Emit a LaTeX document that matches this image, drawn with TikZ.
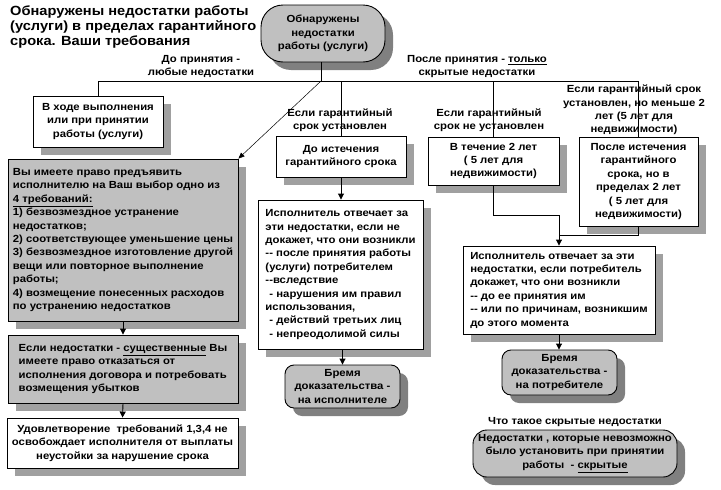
\documentclass[tikz,border=0pt]{standalone}
\usepackage{fontspec}
\setmainfont{Liberation Sans}[FakeStretch=1.1]
\usetikzlibrary{shadows,arrows.meta}
\definecolor{shgray}{RGB}{160,160,160}
\definecolor{dkgray}{RGB}{128,128,128}
\definecolor{boxgray}{RGB}{192,192,192}
\newcommand\hh{-\kern0pt-}
\begin{document}
\begin{tikzpicture}[x=1pt,y=-1pt,
  bf/.style={font=\fontsize{10.3}{13.4}\selectfont\bfseries},
  lbl/.style={bf, align=center, inner sep=0},
  bx/.style={bf, draw, line width=0.9pt, fill=white, inner sep=0, align=center,
    general shadow={fill=shgray, shadow xshift=8pt, shadow yshift=-8pt}},
  gbx/.style={bx, fill=boxgray},
  rbx/.style={bf, draw, line width=0.9pt, fill=boxgray, inner sep=0, align=center, rounded corners=9pt,
    general shadow={fill=dkgray, shadow xshift=8pt, shadow yshift=-8pt}},
  ln/.style={line width=0.9pt},
  arr/.style={line width=0.9pt, -{Triangle[length=6pt,width=6pt]}},
  darr/.style={line width=0.5pt, -{Triangle[length=6pt,width=5pt]}}
]
\useasboundingbox (0,0) rectangle (721,490);
% title
\node[anchor=north west, align=left, inner sep=0, font=\fontsize{13.3}{15}\selectfont\bfseries] (title) at (10,6)
  {Обнаружены недостатки работы\\(услуги) в пределах гарантийного\\срока. Ваши требования};
% top node
\node[rbx, rounded corners=22pt, minimum width=124pt, minimum height=57pt] (top) at (323,33.5)
  {Обнаружены\\недостатки\\работы (услуги)};
% junction
\coordinate (J) at (321,81);
\coordinate (hL) at (98,81);
\coordinate (hR) at (638,81);
\draw[ln] (top.south -| J) -- (J);
\draw[ln] (hL) -- (hR);
% labels
\node[lbl] (l1) at (201,66.5) {До принятия -\\любые недостатки};
\node[lbl] (l2) at (477,66.5) {После принятия - \underline{только}\\скрытые недостатки};
\node[lbl] (l3) at (340,120.5) {Если гарантийный\\срок установлен};
\node[lbl] (l4) at (489,120.5) {Если гарантийный\\срок не установлен};
\node[lbl] (l5) at (634,110) {Если гарантийный срок\\установлен, но меньше 2\\лет (5 лет для\\недвижимости)};
\node[lbl] (l6) at (575,422) {Что такое скрытые недостатки};
% left column
\node[bx, minimum width=130pt, minimum height=51pt] (a) at (98,121.5)
  {В ходе выполнения\\или при принятии\\работы (услуги)};
\node[gbx, minimum width=230pt, minimum height=162pt, align=left] (g1) at (123,240)
  {Вы имеете право предъявить\\исполнителю на Ваш выбор одно из\\\underline{4 требований:}\\1) безвозмездное устранение\\недостатков;\\2) соответствующее уменьшение цены\\3) безвозмездное изготовление другой\\вещи или повторное выполнение\\работы;\\4) возмещение понесенных расходов\\по устранению недостатков};
\node[gbx, minimum width=230pt, minimum height=68pt, align=left] (g2) at (123,369)
  {Если недостатки - \underline{существенные} Вы\\имеете право отказаться от\\исполнения договора и потребовать\\возмещения убытков};
\node[bx, minimum width=231pt, minimum height=50pt] (c) at (122.5,443)
  {Удовлетворение\ \ требований 1,3,4 не\\освобождает исполнителя от выплаты\\неустойки за нарушение срока};
% middle column
\node[bx, minimum width=130pt, minimum height=41pt] (d) at (341,156.5)
  {До истечения\\гарантийного срока};
\node[bx, minimum width=165pt, minimum height=149pt, align=left] (m) at (340.5,274.5)
  {Исполнитель отвечает за\\эти недостатки, если не\\докажет, что они возникли\\\hh{} после принятия работы\\(услуги) потребителем\\\hh вследствие\\\hspace*{4pt}- нарушения им правил\\использования,\\\hspace*{4pt}- действий третьих лиц\\\hspace*{4pt}- непреодолимой силы};
\node[rbx, minimum width=115pt, minimum height=43pt] (b1) at (342.5,386.5)
  {Бремя\\доказательства -\\на исполнителе};
% right columns
\node[bx, minimum width=131pt, minimum height=48pt] (e) at (493.5,161)
  {В течение 2 лет\\( 5 лет для\\недвижимости)};
\node[bx, minimum width=119pt, minimum height=89pt] (f) at (638.5,181.5)
  {После истечения\\гарантийного\\срока, но в\\пределах 2 лет\\( 5 лет для\\недвижимости)};
\node[bx, minimum width=192pt, minimum height=88pt, align=left] (r) at (559,290)
  {Исполнитель отвечает за эти\\недостатки, если потребитель\\докажет, что они возникли\\\hh{} до ее принятия им\\\hh{} или по причинам, возникшим\\до этого момента};
\node[rbx, minimum width=115pt, minimum height=45pt] (b2) at (559.5,372.5)
  {Бремя\\доказательства -\\на потребителе};
\node[rbx, rounded corners=14pt, minimum width=204pt, minimum height=47pt] (s) at (575,453.5)
  {Недостатки , которые невозможно\\было установить при принятии\\работы\ \ - \underline{скрытые}};
% connectors
\draw[ln] (hL) -- (a.north -| hL);
\draw[ln] (d.north |- J) -- (d.north);
\draw[ln] (e.north |- J) -- (e.north);
\draw[ln] (f.north |- hR) -- (f.north);
\draw[darr] (J) -- (g1.north east);
\draw[arr] (g1.south) -- (g2.north);
\draw[arr] (g2.south) -- (c.north);
\draw[arr] (d.south) -- (m.north -| d.south);
\draw[arr] (m.south -| b1.north) -- (b1.north);
\coordinate (k1) at (493,215);
\coordinate (k2) at (638.5,235);
\draw[ln] (e.south -| k1) -- (k1) -| (r.north |- k2);
\draw[arr] (r.north |- k1) -- (r.north);
\draw[ln] (f.south) -- (k2) -- (r.north |- k2);
\draw[arr] (r.south) -- (b2.north -| r.south);
\end{tikzpicture}
\end{document}
